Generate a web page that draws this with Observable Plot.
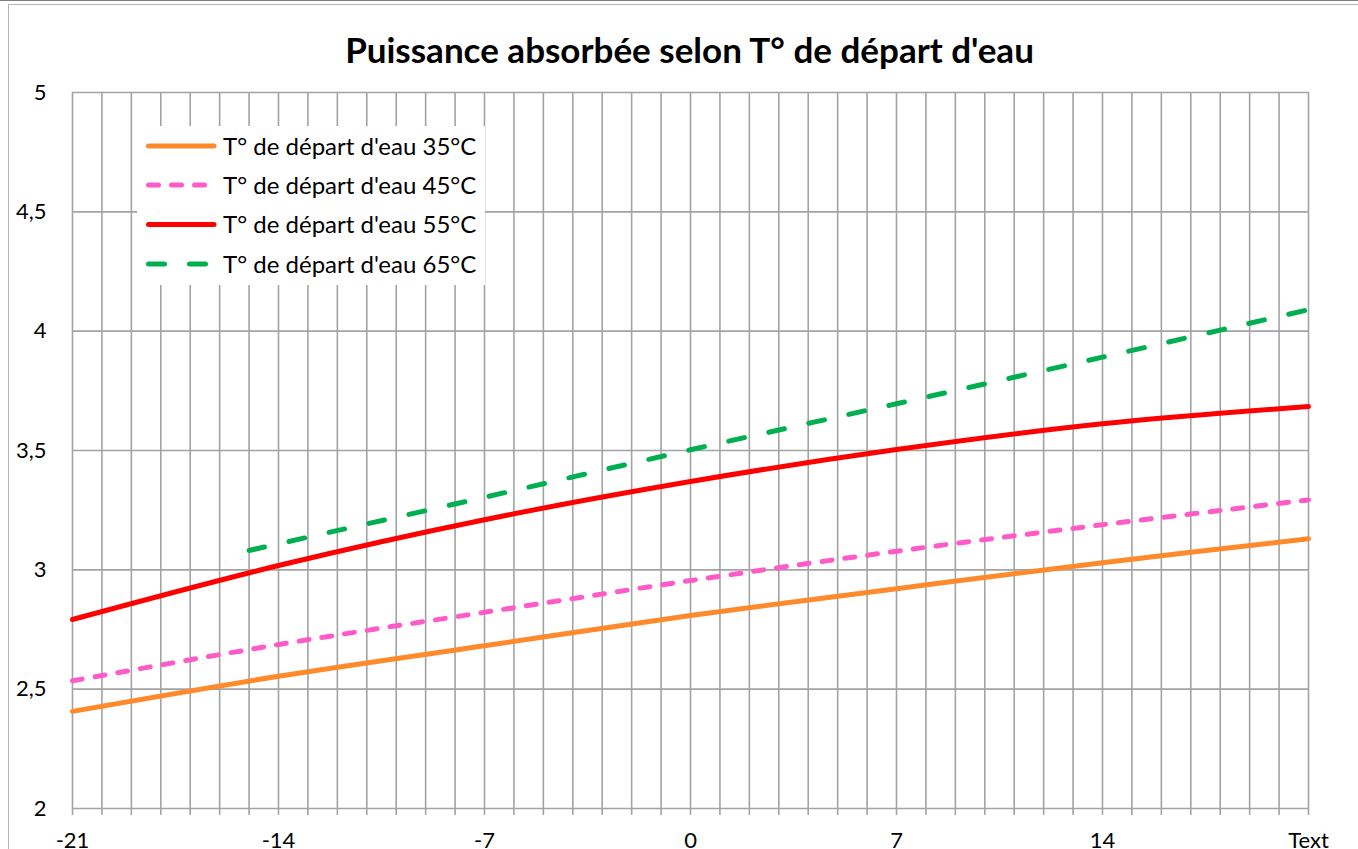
<!DOCTYPE html>
<html>
<head>
<meta charset="utf-8">
<script src="https://cdn.jsdelivr.net/npm/d3@7"></script>
<script src="https://cdn.jsdelivr.net/npm/@observablehq/plot@0.6"></script>
<style>
  html, body { margin: 0; padding: 0; background: #fff; overflow: hidden; }
  #wrap { position: relative; width: 1358px; height: 849px; overflow: hidden; font-family: Lato, "Open Sans", sans-serif; }
  #topline { position: absolute; left: 0; top: 0; width: 1358px; height: 1px; background: #7f7f7f; }
  #frame { position: absolute; left: 8px; top: 4px; width: 1400px; height: 900px; border: 1.5px solid #b5b5b5; box-sizing: border-box; }
  #chart { position: absolute; left: 0; top: 0; }
  #title { position: absolute; left: 0; width: 1379px; top: 28px; text-align: center; font-weight: bold; font-size: 35px; line-height: 42px; color: #000; white-space: nowrap; }
  #legend { position: absolute; left: 137px; top: 126px; }
</style>
</head>
<body>
<div id="wrap">
  <div id="topline"></div>
  <div id="frame"></div>
  <div id="chart"></div>
  <div id="title">Puissance absorbée selon T° de départ d'eau</div>
  <div id="legend"></div>
</div>
<script>
// ---- data ----
const xTemps = [-21, -14, -7, 0, 7, 14, 21];
const p35 = [2.407, 2.554, 2.682, 2.809, 2.921, 3.030, 3.130];
const p45 = [2.535, 2.687, 2.822, 2.955, 3.078, 3.189, 3.293];
const p55 = [2.792, 3.018, 3.210, 3.370, 3.504, 3.612, 3.684];
const xTemps65 = [-15, -14, -7, 0, 7, 14, 21];
const p65 = [3.081, 3.109, 3.304, 3.503, 3.696, 3.891, 4.090];
const seriesNames = ["T° de départ d'eau 35°C", "T° de départ d'eau 45°C", "T° de départ d'eau 55°C", "T° de départ d'eau 65°C"];
const xTickValues = [-21, -14, -7, 0, 7, 14, 21];
const xTickLabels = ["-21", "-14", "-7", "0", "7", "14", "Text"];
const yTickValues = [2, 2.5, 3, 3.5, 4, 4.5, 5];
const yTickLabels = ["2", "2,5", "3", "3,5", "4", "4,5", "5"];

// ---- styles ----
const styles = [
  {stroke: "#FF8A2C", dash: null},
  {stroke: "#FF5BC8", dash: "10,13"},
  {stroke: "#FF0000", dash: null},
  {stroke: "#00B050", dash: "16,25"}
];

const toRows = (xs, ys) => xs.map((x, i) => ({x, y: ys[i]}));
const rows = [toRows(xTemps, p35), toRows(xTemps, p45), toRows(xTemps, p55), toRows(xTemps65, p65)];

const gridXs = d3.range(-21, 22);
const gridColor = "#a3a3a3";

const lineMarks = rows.map((data, i) => Plot.line(data, {
  x: "x", y: "y",
  stroke: styles[i].stroke,
  strokeWidth: 5,
  strokeDasharray: styles[i].dash || undefined,
  strokeLinecap: "round",
  curve: "catmull-rom"
}));

const chart = Plot.plot({
  width: 1358,
  height: 849,
  marginLeft: 72,
  marginRight: 50,
  marginTop: 92,
  marginBottom: 41,
  style: {fontFamily: "Lato, 'Open Sans', sans-serif", fontSize: "22px", color: "#000", background: "transparent", overflow: "visible"},
  x: {domain: [-21, 21], label: null},
  y: {domain: [2, 5], label: null},
  marks: [
    Plot.gridX(gridXs, {stroke: gridColor, strokeOpacity: 1, strokeWidth: 1.6}),
    Plot.gridY(yTickValues, {stroke: gridColor, strokeOpacity: 1, strokeWidth: 1.6}),
    Plot.axisX(gridXs, {tickSize: 7, tickFormat: () => "", stroke: gridColor, strokeWidth: 1.6, label: null}),
    Plot.axisX(xTickValues, {tickSize: 0, tickPadding: 24, tickFormat: d => xTickLabels[xTickValues.indexOf(d)], fontSize: 22, label: null}),
    Plot.axisY(yTickValues, {tickSize: 0, tickPadding: 26, tickFormat: d => yTickLabels[yTickValues.indexOf(d)], fontSize: 22, label: null}),
    ...lineMarks
  ]
});
document.getElementById("chart").appendChild(chart);

// ---- legend ----
const lg = d3.select("#legend").append("svg").attr("width", 348).attr("height", 159);
lg.append("rect").attr("width", 348).attr("height", 159).attr("fill", "#fff");
const rowY = [20, 59, 98.5, 138];
seriesNames.forEach((name, i) => {
  lg.append("line")
    .attr("x1", 11.5).attr("x2", 77).attr("y1", rowY[i]).attr("y2", rowY[i])
    .attr("stroke", styles[i].stroke).attr("stroke-width", 5)
    .attr("stroke-linecap", "round")
    .attr("stroke-dasharray", styles[i].dash);
  lg.append("text")
    .attr("x", 86).attr("y", rowY[i] + 8.5)
    .attr("font-family", "Lato, 'Open Sans', sans-serif").attr("font-size", 24)
    .attr("fill", "#000")
    .text(name);
});
</script>
</body>
</html>
